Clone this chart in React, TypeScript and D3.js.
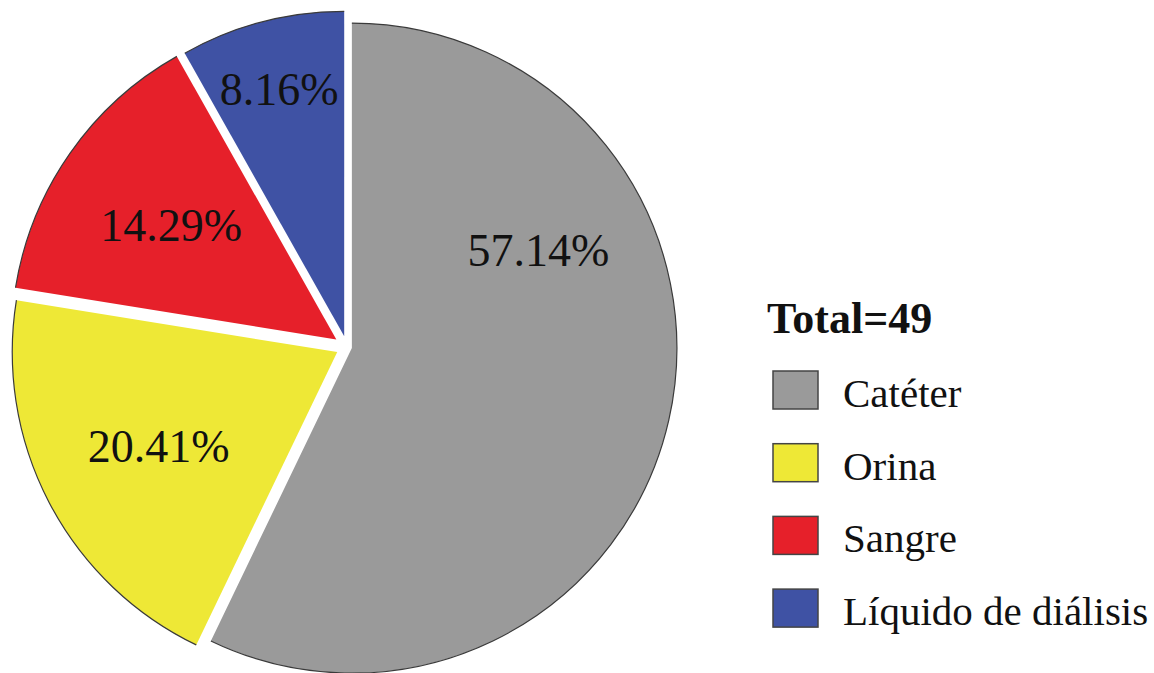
import React from 'react';
import * as d3 from 'd3';

const categories = ['Catéter', 'Orina', 'Sangre', 'Líquido de diálisis'];
const counts = [28, 10, 7, 4];
const totalLabel = 'Total=49';

const colors = ['#9a9a9a', '#eee836', '#e6202a', '#3f52a4'];
const explode = [5, 11, 13, 11];
const labelRadiusFrac = [0.65, 0.62, 0.62, 0.79];
const labelAngleDeg: (number | null)[] = [62, null, null, null];

const W = 1154;
const H = 673;
const CX = 347;
const CY = 347;
const R = 325;

export default function App() {
  const total = d3.sum(counts);
  const pie = d3
    .pie<number>()
    .sort(null)
    .value((d) => d)
    .startAngle(0)
    .endAngle(2 * Math.PI);
  const arcs = pie(counts);
  const arcGen = d3.arc<d3.PieArcDatum<number>>().innerRadius(0).outerRadius(R);
  const rimGen = d3.arc<d3.PieArcDatum<number>>().innerRadius(R).outerRadius(R);

  const legendX = 773;
  const legendTop = 371;
  const legendStep = 72.7;
  const boxW = 45;
  const boxH = 38;

  const serif = '"Liberation Serif", "DejaVu Serif", serif';

  return (
    <svg
      width={W}
      height={H}
      viewBox={`0 0 ${W} ${H}`}
      style={{ position: 'absolute', left: 0, top: 0, background: '#ffffff' }}
    >
      {arcs.map((a, i) => {
        const mid = (a.startAngle + a.endAngle) / 2;
        const ox = CX + explode[i] * Math.sin(mid);
        const oy = CY - explode[i] * Math.cos(mid);
        const la = labelAngleDeg[i] != null ? ((labelAngleDeg[i] as number) * Math.PI) / 180 : mid;
        const lr = labelRadiusFrac[i] * R;
        const lx = lr * Math.sin(la);
        const ly = -lr * Math.cos(la);
        const pct = ((counts[i] / total) * 100).toFixed(2) + '%';
        return (
          <g key={categories[i]} transform={`translate(${ox},${oy})`}>
            <path d={arcGen(a) as string} fill={colors[i]} />
            <path d={rimGen(a) as string} fill="none" stroke="#3a3a3a" strokeWidth={1.2} />
            <text
              x={lx}
              y={ly}
              dy="0.36em"
              textAnchor="middle"
              fontFamily={serif}
              fontSize={46}
              fill="#111"
            >
              {pct}
            </text>
          </g>
        );
      })}

      <text
        x={767}
        y={333}
        fontFamily={serif}
        fontWeight="bold"
        fontSize={44}
        fill="#111"
      >
        {totalLabel}
      </text>
      {categories.map((c, i) => {
        const y = legendTop + i * legendStep;
        return (
          <g key={'lg' + c}>
            <rect
              x={legendX}
              y={y}
              width={boxW}
              height={boxH}
              fill={colors[i]}
              stroke="#444"
              strokeWidth={1.5}
            />
            <text x={843} y={y + 36} fontFamily={serif} fontSize={41} fill="#111">
              {c}
            </text>
          </g>
        );
      })}
    </svg>
  );
}
